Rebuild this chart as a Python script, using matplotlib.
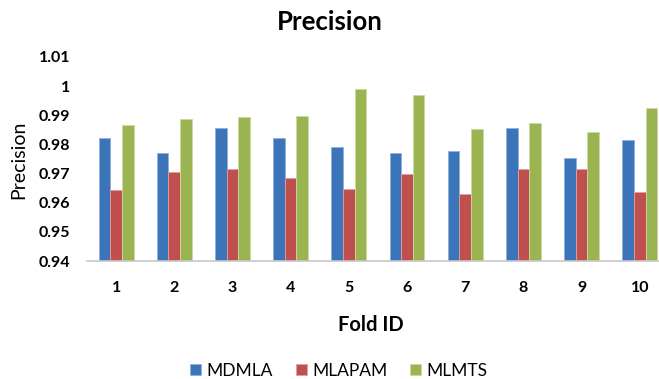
import matplotlib.pyplot as plt
import numpy as np

plt.rcParams['font.family'] = ['Lato', 'DejaVu Sans']

folds = ['1', '2', '3', '4', '5', '6', '7', '8', '9', '10']
mdmla = [0.9821, 0.9772, 0.9855, 0.9821, 0.9790, 0.9769, 0.9776, 0.9855, 0.9755, 0.9814]
mlapam = [0.9645, 0.9707, 0.9714, 0.9686, 0.9648, 0.9700, 0.9631, 0.9717, 0.9714, 0.9638]
mlmts = [0.9866, 0.9886, 0.9893, 0.9897, 0.9990, 0.9969, 0.9852, 0.9872, 0.9841, 0.9924]

series = [('MDMLA', mdmla, '#3B74B8', '#8FB0DA'),
          ('MLAPAM', mlapam, '#C0504D', '#E0A09E'),
          ('MLMTS', mlmts, '#9BB452', '#C9DA9F')]

fig = plt.figure(figsize=(6.59, 3.79), dpi=100)
ax = fig.add_axes([0.132, 0.311, 0.868, 0.539])

x = np.arange(len(folds))
w = 0.2
for i, (name, vals, c, ec) in enumerate(series):
    ax.bar(x + (i - 1) * w, np.array(vals) - 0.94, w, bottom=0.94,
           color=c, edgecolor=ec, linewidth=0.6, label=name)

ax.set_ylim(0.94, 1.01)
ax.set_yticks(np.arange(0.94, 1.0101, 0.01))
ax.set_yticklabels(['0.94', '0.95', '0.96', '0.97', '0.98', '0.99', '1', '1.01'])
ax.set_xlim(-0.5, 9.33)
ax.set_xticks(x)
ax.set_xticklabels(folds)
ax.tick_params(axis='both', length=0, labelsize=11.5)
ax.tick_params(axis='x', pad=14)
ax.tick_params(axis='y', pad=12)
for t in ax.get_xticklabels() + ax.get_yticklabels():
    t.set_fontweight('bold')

for s in ['top', 'right', 'left']:
    ax.spines[s].set_visible(False)
ax.spines['bottom'].set_color('#C8C8C8')
ax.spines['bottom'].set_linewidth(1.2)

fig.text(0.5, 0.942, 'Precision', ha='center', va='center', fontsize=18.5, fontweight='bold')
fig.text(0.028, 0.578, 'Precision', ha='center', va='center', rotation=90, fontsize=14)
fig.text(0.563, 0.142, 'Fold ID', ha='center', va='center', fontsize=14.5, fontweight='bold')

fig.legend(loc='center', bbox_to_anchor=(0.514, 0.022), ncol=3, frameon=False,
           fontsize=12.5, handlelength=0.65, handleheight=0.65, handletextpad=0.3,
           columnspacing=1.3)

fig.savefig('out.png', dpi=100)
